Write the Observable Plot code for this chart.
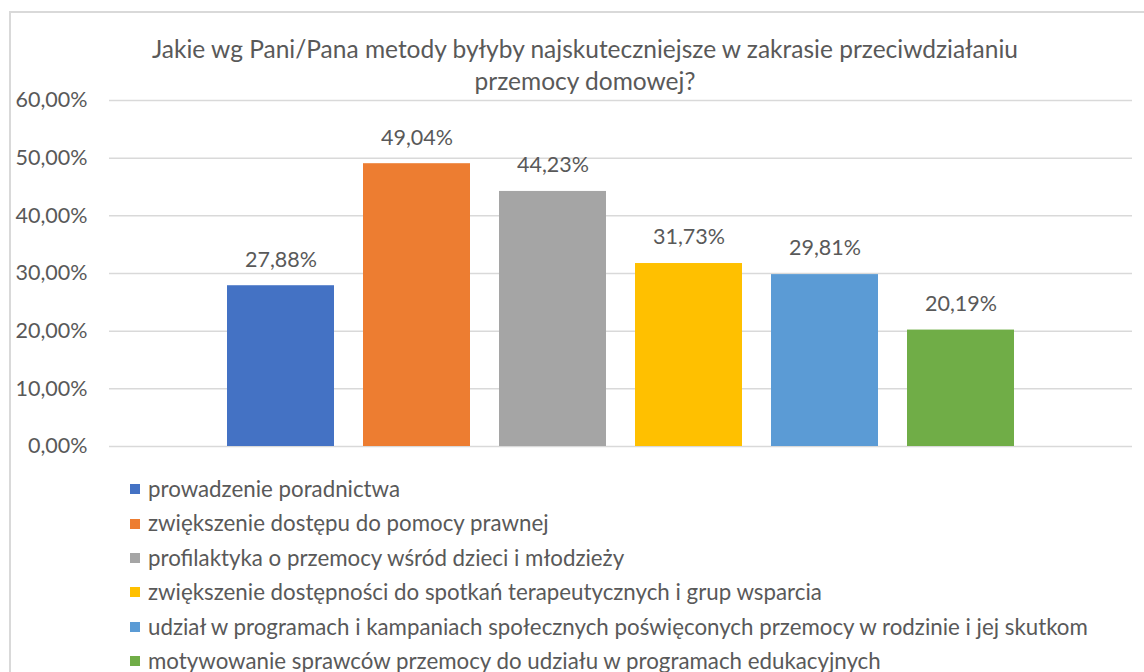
<!DOCTYPE html>
<html>
<head>
<meta charset="utf-8">
<script src="https://cdn.jsdelivr.net/npm/d3@7"></script>
<script src="https://cdn.jsdelivr.net/npm/@observablehq/plot@0.6"></script>
<style>
  html, body { margin: 0; padding: 0; background: #fff; overflow: hidden; width: 1144px; height: 672px; }
  #frame { position: absolute; left: 9px; top: 11px; width: 1200px; height: 720px; border: 2px solid #d9d9d9; box-sizing: border-box; }
  #title { position: absolute; left: 0; top: 33px; width: 1170px; text-align: center; font-family: Lato, "Open Sans", sans-serif; font-size: 24.5px; line-height: 32px; color: #595959; }
  #chart { position: absolute; left: 0; top: 88px; }
  #legend { position: absolute; left: 130px; top: 472px; font-family: Lato, "Open Sans", sans-serif; font-size: 22.3px; color: #595959; }
  .item { height: 34.4px; line-height: 34.4px; white-space: nowrap; display: flex; align-items: center; }
  .sw { width: 10px; height: 10px; margin-right: 8px; flex: none; }
</style>
</head>
<body>
<div id="frame"></div>
<div id="title">Jakie wg Pani/Pana metody byłyby najskuteczniejsze w zakrasie przeciwdziałaniu<br>przemocy domowej?</div>
<div id="chart"></div>
<div id="legend"></div>
<script>
const categories = [
  "prowadzenie poradnictwa",
  "zwiększenie dostępu do pomocy prawnej",
  "profilaktyka o przemocy wśród dzieci i młodzieży",
  "zwiększenie dostępności do spotkań terapeutycznych i grup wsparcia",
  "udział w programach i kampaniach społecznych poświęconych przemocy w rodzinie i jej skutkom",
  "motywowanie sprawców przemocy do udziału w programach edukacyjnych"
];
const values = [27.88, 49.04, 44.23, 31.73, 29.81, 20.19];
const colors = ["#4472C4", "#ED7D31", "#A5A5A5", "#FFC000", "#5B9BD5", "#70AD47"];
const yTicks = [0, 10, 20, 30, 40, 50, 60];

const data = categories.map((c, i) => ({category: c, value: values[i], color: colors[i]}));
const fmt = v => v.toFixed(2).replace(".", ",") + "%";

const W = 1144;
const chart = Plot.plot({
  width: W,
  height: 368,
  marginTop: 12,
  marginBottom: 10,
  marginLeft: 109,
  marginRight: W - 1132,
  style: { fontFamily: "Lato, 'Open Sans', sans-serif", fontSize: "21.5px", color: "#595959", background: "transparent" },
  x: { domain: categories, range: [198, 1043], padding: 0.213, axis: null },
  y: { domain: [0, 60], ticks: yTicks, tickFormat: d => d.toFixed(2).replace(".", ",") + "%", tickSize: 0, tickPadding: 22, label: null },
  marks: [
    Plot.ruleY(yTicks, { stroke: "#d9d9d9", strokeWidth: 1.5 }),
    Plot.barY(data, { x: "category", y: "value", fill: "color" }),
    Plot.text(data, { x: "category", y: "value", text: d => fmt(d.value), dy: -26, fill: "#595959", fontSize: 21.5 })
  ]
});
document.getElementById("chart").appendChild(chart);

const legend = document.getElementById("legend");
categories.forEach((c, i) => {
  const item = document.createElement("div");
  item.className = "item";
  const sw = document.createElement("span");
  sw.className = "sw";
  sw.style.background = colors[i];
  const t = document.createElement("span");
  t.textContent = c;
  item.appendChild(sw);
  item.appendChild(t);
  legend.appendChild(item);
});
</script>
</body>
</html>
